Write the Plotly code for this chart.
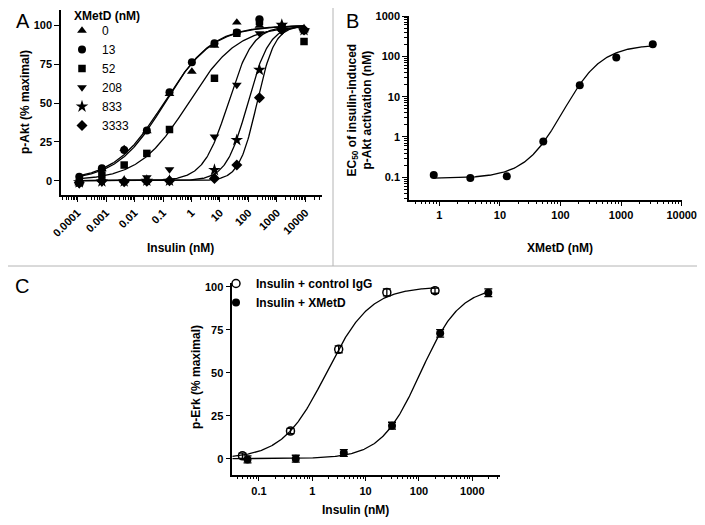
import numpy as np
import plotly.graph_objects as go

# ---------------- Panel A data ----------------
insulin_a = [0.000115, 0.000715, 0.00434, 0.0271, 0.169, 1.03, 6.4, 39, 243, 1480, 8900]
xmetd_a_labels = ["0", "13", "52", "208", "833", "3333"]
pakt_0 = [-1.5, 7.5, 20.5, 32.0, 56.0, 70.3, 87.0, 102.0, 100.0, 99.0, 97.0]
pakt_13 = [2.6, 8.0, 19.8, 32.3, 57.0, 76.3, 88.6, 95.5, 104.0, 99.4, 96.8]
pakt_52 = [-1.3, 3.7, 10.1, 17.6, 33.0, None, 66.0, 95.0, 102.6, 98.3, 89.7]
pakt_208 = [-2.4, -1.3, -0.5, 2.2, 7.3, None, 28.4, 61.7, 95.0, 100.0, 97.0]
pakt_833 = [-1.0, -0.5, -0.5, 0.0, 0.0, None, 6.9, 26.2, 71.4, 100.4, 97.0]
pakt_3333 = [-1.3, 0.0, -0.6, -0.4, 0.0, None, 1.5, 10.1, 53.5, 97.2, 97.2]
# fitted dose-response parameters
ec50_a = [0.114, 0.106, 0.77, 19.3, 94.0, 198.0]
hill_a = [0.52, 0.50, 0.50, 1.0, 1.15, 1.4]
curve_a_start, curve_a_end = 0.0001, 8900
ticks_a = [0.0001, 0.001, 0.01, 0.1, 1, 10, 100, 1000, 10000]
ticktext_a = ["0.0001", "0.001", "0.01", "0.1", "1", "10", "100", "1000", "10000"]

# ---------------- Panel B data ----------------
xmetd_b = [0.81, 3.25, 13, 52, 208, 833, 3333]
ec50_b = [0.114, 0.096, 0.106, 0.77, 19.3, 94, 198]
fit_b_bottom, fit_b_top, fit_b_mid, fit_b_hill = 0.095, 195.0, 110.0, 1.35
ticks_bx = [1, 10, 100, 1000, 10000]
ticks_by = [0.1, 1, 10, 100, 1000]

# ---------------- Panel C data ----------------
insulin_ctrl = [0.049, 0.39, 3.125, 25, 200]
perk_ctrl = [1.7, 16.1, 63.6, 96.7, 97.7]
perk_ctrl_err = [1.5, 1.5, 2.0, 2.0, 1.5]
insulin_xmetd = [0.061, 0.49, 3.9, 31.25, 250, 2000]
perk_xmetd = [-0.4, 0.0, 3.3, 19.2, 72.9, 96.5]
perk_xmetd_err = [2.0, 2.0, 2.0, 2.0, 2.2, 2.2]
ec50_c = [1.84, 107.0]
hill_c = [1.06, 1.17]
curve_c_start = 0.0316
curve_c_end = [200, 2000]
ticks_c = [0.1, 1, 10, 100, 1000]

FONT = "Liberation Sans, Arial, sans-serif"


def hill(x, ec50, n, bottom=0.0, top=100.0):
    x = np.asarray(x)
    return bottom + (top - bottom) / (1 + (ec50 / x) ** n)


def minor_vals(lo, hi):
    out = []
    for k in range(lo, hi):
        for m in range(2, 10):
            out.append(m * 10.0 ** k)
    return out


fig = go.Figure()

symbols_a = ["triangle-up", "circle", "square", "triangle-down", "star", "diamond"]
sizes_a = [8.5, 8, 7.5, 8.5, 9.5, 8.5]
series_a = [pakt_0, pakt_13, pakt_52, pakt_208, pakt_833, pakt_3333]

for i in range(6):
    xc = np.logspace(np.log10(curve_a_start), np.log10(curve_a_end), 300)
    fig.add_trace(go.Scatter(x=xc, y=hill(xc, ec50_a[i], hill_a[i]), mode="lines",
                             line=dict(color="black", width=1.3), showlegend=False,
                             xaxis="x", yaxis="y", hoverinfo="skip"))
for i in range(6):
    fig.add_trace(go.Scatter(x=insulin_a, y=series_a[i], mode="markers",
                             marker=dict(symbol=symbols_a[i], size=sizes_a[i], color="black"),
                             name=xmetd_a_labels[i], xaxis="x", yaxis="y",
                             cliponaxis=False, legend="legend"))

# Panel B
xb = np.logspace(np.log10(xmetd_b[0]), np.log10(xmetd_b[-1]), 300)
lb, lt = np.log10(fit_b_bottom), np.log10(fit_b_top)
yb = 10 ** (lb + (lt - lb) / (1 + (fit_b_mid / xb) ** fit_b_hill))
fig.add_trace(go.Scatter(x=xb, y=yb, mode="lines", line=dict(color="black", width=1.3),
                         showlegend=False, xaxis="x2", yaxis="y2", hoverinfo="skip"))
fig.add_trace(go.Scatter(x=xmetd_b, y=ec50_b, mode="markers",
                         marker=dict(symbol="circle", size=8, color="black"),
                         showlegend=False, xaxis="x2", yaxis="y2", cliponaxis=False))

# Panel C
for j in range(2):
    xc = np.logspace(np.log10(curve_c_start), np.log10(curve_c_end[j]), 300)
    fig.add_trace(go.Scatter(x=xc, y=hill(xc, ec50_c[j], hill_c[j]), mode="lines",
                             line=dict(color="black", width=1.3), showlegend=False,
                             xaxis="x3", yaxis="y3", hoverinfo="skip"))
fig.add_trace(go.Scatter(x=insulin_ctrl, y=perk_ctrl, mode="markers",
                         error_y=dict(type="data", array=perk_ctrl_err, color="black", thickness=1.3, width=4),
                         marker=dict(symbol="circle-open", size=8, color="black", line=dict(width=1.5)),
                         name="Insulin + control IgG", xaxis="x3", yaxis="y3",
                         cliponaxis=False, legend="legend2"))
fig.add_trace(go.Scatter(x=insulin_xmetd, y=perk_xmetd, mode="markers",
                         error_y=dict(type="data", array=perk_xmetd_err, color="black", thickness=1.3, width=4),
                         marker=dict(symbol="circle", size=8, color="black"),
                         name="Insulin + XMetD", xaxis="x3", yaxis="y3",
                         cliponaxis=False, legend="legend2"))

# the page body adds an 8px offset; size the figure to fill the remaining window
OFF = 8
W, H = 705 - OFF, 525 - OFF


def px_x(p):
    return min(max((p - OFF) / W, 0.0), 1.0)


def px_y(p):
    return min(max(1 - (p - OFF) / H, 0.0), 1.0)


axis_common = dict(showline=True, linecolor="black", linewidth=1.5, ticks="outside",
                   ticklen=5, tickwidth=1.3, tickcolor="black", showgrid=False, zeroline=False,
                   automargin=False,
                   tickfont=dict(family=FONT, size=11, color="black", weight="bold"))

tf = dict(family=FONT, size=12, color="black", weight="bold")

fig.update_layout(
    width=W, height=H, margin=dict(l=0, r=0, t=0, b=0, pad=0, autoexpand=False),
    paper_bgcolor="white", plot_bgcolor="white", showlegend=True,
    xaxis=dict(**axis_common, type="log", domain=[px_x(61), px_x(321.7)], range=[-4.58, 4.57],
               tickmode="array", tickvals=ticks_a, ticktext=ticktext_a, tickangle=-45,
               anchor="y",
               minor=dict(ticks="outside", ticklen=3, tickwidth=1, tickcolor="black",
                          tickmode="array", tickvals=minor_vals(-5, 5))),
    yaxis=dict(**axis_common, domain=[px_y(195.3), px_y(10)], range=[-9.4, 110],
               tickmode="array", tickvals=[0, 25, 50, 75, 100], anchor="x"),
    xaxis2=dict(**axis_common, type="log", domain=[px_x(409), px_x(681.7)], range=[-0.5, 4.0],
                tickmode="array", tickvals=ticks_bx, ticktext=[str(v) for v in ticks_bx],
                anchor="y2",
                minor=dict(ticks="outside", ticklen=3, tickwidth=1, tickcolor="black",
                           tickmode="array", tickvals=minor_vals(-1, 4))),
    yaxis2=dict(**axis_common, type="log", domain=[px_y(199.5), px_y(16)], range=[-1.55, 3.0],
                tickmode="array", tickvals=ticks_by, ticktext=["0.1", "1", "10", "100", "1000"],
                anchor="x2",
                minor=dict(ticks="outside", ticklen=3, tickwidth=1, tickcolor="black",
                           tickmode="array", tickvals=minor_vals(-2, 3))),
    xaxis3=dict(**axis_common, type="log", domain=[px_x(232.3), px_x(500)], range=[-1.5, 3.52],
                tickmode="array", tickvals=ticks_c, ticktext=["0.1", "1", "10", "100", "1000"],
                anchor="y3",
                minor=dict(ticks="outside", ticklen=3, tickwidth=1, tickcolor="black",
                           tickmode="array", tickvals=minor_vals(-2, 4))),
    yaxis3=dict(**axis_common, domain=[px_y(474.7), px_y(283.3)], range=[-9.3, 102],
                tickmode="array", tickvals=[0, 25, 50, 75, 100], anchor="x3"),
    legend=dict(x=px_x(62), y=px_y(16), xanchor="left", yanchor="top",
                bgcolor="rgba(0,0,0,0)", borderwidth=0,
                font=dict(family=FONT, size=12, color="black")),
    legend2=dict(x=px_x(216), y=px_y(269), xanchor="left", yanchor="top",
                 bgcolor="rgba(0,0,0,0)", borderwidth=0, font=tf),
    shapes=[
        dict(type="line", xref="paper", yref="paper", x0=px_x(333), x1=px_x(333), y0=1, y1=px_y(266),
             line=dict(color="#b4b4b4", width=1)),
        dict(type="line", xref="paper", yref="paper", x0=0, x1=1, y0=px_y(266), y1=px_y(266),
             line=dict(color="#b4b4b4", width=1)),
    ],
    annotations=[
        dict(text="A", x=px_x(14), y=px_y(7), xref="paper", yref="paper", xanchor="left", yanchor="top",
             showarrow=False, font=dict(family=FONT, size=20, color="black")),
        dict(text="B", x=px_x(344), y=px_y(7), xref="paper", yref="paper", xanchor="left", yanchor="top",
             showarrow=False, font=dict(family=FONT, size=20, color="black")),
        dict(text="C", x=px_x(13), y=px_y(273), xref="paper", yref="paper", xanchor="left", yanchor="top",
             showarrow=False, font=dict(family=FONT, size=20, color="black")),
        dict(text="XMetD (nM)", x=px_x(72), y=px_y(16), xref="paper", yref="paper",
             xanchor="left", yanchor="middle", showarrow=False, font=tf),
        dict(text="Insulin (nM)", x=px_x(180), y=px_y(248), xref="paper", yref="paper",
             xanchor="center", yanchor="middle", showarrow=False, font=tf),
        dict(text="p-Akt (% maximal)", x=px_x(25), y=px_y(102), xref="paper", yref="paper",
             xanchor="center", yanchor="middle", textangle=-90, showarrow=False, font=tf),
        dict(text="XMetD (nM)", x=px_x(560), y=px_y(248), xref="paper", yref="paper",
             xanchor="center", yanchor="middle", showarrow=False, font=tf),
        dict(text="EC<sub>50</sub> of insulin-induced<br>p-Akt activation (nM)", x=px_x(359.5), y=px_y(110),
             xref="paper", yref="paper", xanchor="center", yanchor="middle", textangle=-90,
             showarrow=False, font=tf),
        dict(text="Insulin (nM)", x=px_x(355), y=px_y(510), xref="paper", yref="paper",
             xanchor="center", yanchor="middle", showarrow=False, font=tf),
        dict(text="p-Erk (% maximal)", x=px_x(196), y=px_y(377), xref="paper", yref="paper",
             xanchor="center", yanchor="middle", textangle=-90, showarrow=False, font=tf),
    ],
)

fig.write_html("out.html")
